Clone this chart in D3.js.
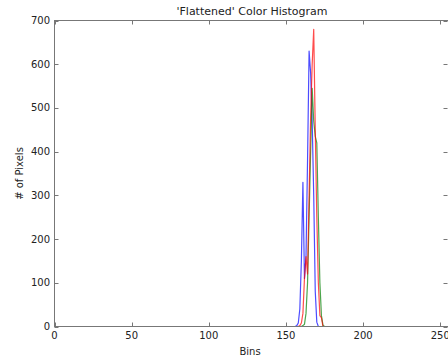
<!DOCTYPE html>
<html>
<head>
<meta charset="utf-8">
<script src="https://cdn.jsdelivr.net/npm/d3@7"></script>
<style>
  body { margin: 0; background: #fff; }
  text { font-family: "DejaVu Sans", sans-serif; fill: #222; }
</style>
</head>
<body>
<script>
// histogram bins (only the non-empty region is listed, the rest is 0)
var bins   = [0, 156, 157, 158, 159, 160, 161, 162, 163, 164, 165, 166, 167, 168, 169, 170, 171, 172, 173, 174, 175, 176, 255];
var blue   = [0,   0,   2,   8,  40, 150, 330, 110, 160, 380, 630, 580, 470, 300,  80,  10,   0,   0,   0,   0,   0,   0,   0];
var green  = [0,   0,   0,   0,   0,   0,   2,   5,  30, 100, 250, 400, 545, 470, 435, 420, 250, 100,  25,   3,   0,   0,   0];
var red    = [0,   0,   0,   0,   2,   8,  30, 110, 160, 120, 300, 480, 600, 680, 450, 250, 100,  25,  20,   0,   0,   0,   0];
var xTicks = [0, 50, 100, 150, 200, 250];
var yTicks = [0, 100, 200, 300, 400, 500, 600, 700];

var svg = d3.select("body").append("svg").attr("width", 448).attr("height", 360),
    margin = {top: 20.5, left: 54.5, right: 449.5, bottom: 326.5};

var x = d3.scaleLinear().domain([0, 256]).range([margin.left, margin.right]);
var y = d3.scaleLinear().domain([0, 700]).range([margin.bottom, margin.top]);

// title
svg.append("text")
    .attr("x", (margin.left + margin.right) / 2)
    .attr("y", 15)
    .attr("text-anchor", "middle")
    .style("font-size", "11px")
    .text("'Flattened' Color Histogram");

// lines, plotted b, g, r
var line = d3.line()
    .x(function(d, i) { return x(bins[i]); })
    .y(function(d) { return y(d); });

var series = [{v: blue, c: "#0000ff"}, {v: green, c: "#008000"}, {v: red, c: "#ff0000"}];
svg.selectAll(".series")
    .data(series)
  .enter().append("path")
    .attr("class", "series")
    .attr("d", function(d) { return line(d.v); })
    .attr("fill", "none")
    .attr("stroke", function(d) { return d.c; })
    .attr("stroke-opacity", 0.7)
    .attr("stroke-width", 1.2)
    .attr("stroke-linejoin", "round");

// frame
svg.append("rect")
    .attr("x", margin.left).attr("y", margin.top)
    .attr("width", margin.right - margin.left)
    .attr("height", margin.bottom - margin.top)
    .attr("fill", "none")
    .attr("stroke", "#777")
    .attr("stroke-width", 1);

// inward ticks on all sides
var tl = 4;
svg.selectAll(".xt").data(xTicks).enter().append("path")
    .attr("d", function(d) {
      var px = Math.round(x(d)) + 0.5;
      return "M" + px + "," + margin.bottom + "v" + (-tl) + "M" + px + "," + margin.top + "v" + tl;
    })
    .attr("stroke", "#777");
svg.selectAll(".yt").data(yTicks).enter().append("path")
    .attr("d", function(d) {
      var py = Math.round(y(d)) + 0.5;
      return "M" + margin.left + "," + py + "h" + tl + "M" + (margin.right - 2) + "," + py + "h" + (-tl);
    })
    .attr("stroke", "#777");

// tick labels
svg.selectAll(".xl").data(xTicks).enter().append("text")
    .attr("x", function(d) { return x(d); })
    .attr("y", 339)
    .attr("text-anchor", "middle")
    .style("font-size", "10px")
    .text(function(d) { return d; });
svg.selectAll(".yl").data(yTicks).enter().append("text")
    .attr("x", 50)
    .attr("y", function(d) { return y(d) + 3.5; })
    .attr("text-anchor", "end")
    .style("font-size", "10px")
    .text(function(d) { return d; });

// axis labels
svg.append("text")
    .attr("x", (margin.left + margin.right) / 2 - 2)
    .attr("y", 355)
    .attr("text-anchor", "middle")
    .style("font-size", "10px")
    .text("Bins");
svg.append("text")
    .attr("transform", "translate(23," + ((margin.top + margin.bottom) / 2) + ") rotate(-90)")
    .attr("text-anchor", "middle")
    .style("font-size", "10px")
    .text("# of Pixels");
</script>
</body>
</html>
